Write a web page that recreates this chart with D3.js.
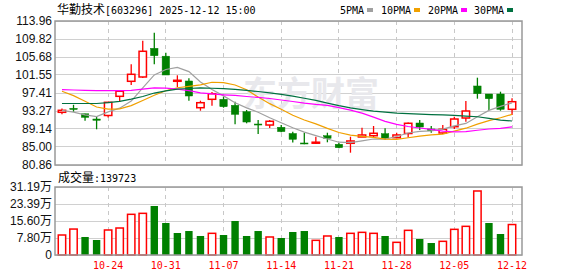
<!DOCTYPE html>
<html>
<head>
<meta charset="utf-8">
<script src="https://cdn.jsdelivr.net/npm/d3@7"></script>
<style>
  body { margin: 0; background: #fff; }
  svg { display: block; }
</style>
</head>
<body>
<svg id="chart" width="578" height="276"></svg>
<script>
var dates = ["10-20","10-21","10-22","10-23","10-24","10-27","10-28","10-29","10-30","10-31",
             "11-03","11-04","11-05","11-06","11-07","11-10","11-11","11-12","11-13","11-14",
             "11-17","11-18","11-19","11-20","11-21","11-24","11-25","11-26","11-27","11-28",
             "12-01","12-02","12-03","12-04","12-05","12-08","12-09","12-10","12-11","12-12"];
var openP  = [92.97,93.89,92.63,91.43,92.24,96.65,100.10,101.09,107.68,105.87,
              100.17,100.17,94.03,95.96,95.96,94.58,93.11,90.28,90.05,89.53,
              88.10,85.92,86.01,87.59,85.62,85.85,87.30,87.59,88.05,87.14,
              88.10,90.51,89.14,88.22,89.66,91.66,99.02,97.18,97.18,93.66];
var closeP = [93.43,93.62,91.82,91.14,95.27,97.82,101.71,107.00,105.98,101.55,
              100.33,96.72,95.18,97.25,94.26,92.51,90.74,90.15,90.91,88.54,
              86.77,85.78,86.10,87.00,84.84,86.38,87.76,88.15,87.00,87.76,
              90.45,89.59,88.74,89.07,91.43,93.27,97.25,96.10,93.66,95.41];
var highP  = [93.85,94.70,92.63,92.06,95.27,97.82,104.01,109.43,111.27,106.67,
              101.48,100.79,95.64,97.64,96.56,95.41,93.50,91.20,91.20,90.06,
              88.51,88.28,87.36,88.28,85.92,87.36,89.43,89.82,89.30,88.28,
              90.63,91.20,89.82,90.06,91.96,95.57,100.93,97.18,97.71,96.19];
var lowP   = [92.51,93.09,91.04,89.07,91.78,95.41,99.25,100.86,104.01,101.55,
              98.79,95.64,93.34,94.49,94.03,90.22,90.44,87.99,89.36,88.40,
              86.03,85.62,85.69,86.08,84.70,83.69,87.30,87.14,86.61,87.00,
              87.18,88.91,88.28,87.99,89.14,90.81,96.10,93.50,93.34,92.35];
var volume = [91700,119000,82600,68800,114700,123800,186600,191100,224800,146800,
              100900,110000,87200,99400,91700,156000,87200,110000,82600,78000,
              105500,110000,67300,87200,82600,99400,103900,99400,87200,58100,
              113100,73400,55000,62700,117700,131500,293600,146800,96300,139723];
var ma5  = [93.4,93.0,92.4,92.0,93.06,93.93,95.55,98.59,101.56,102.81,
            103.31,102.32,99.95,98.21,96.75,95.18,93.99,92.98,91.71,90.57,
            89.42,88.43,87.62,86.84,86.10,86.02,86.42,86.83,86.83,87.41,
            88.22,88.59,88.71,89.12,89.86,90.42,91.95,93.42,94.34,95.14];
var ma10 = [97.8,96.8,95.5,94.2,93.7,93.75,94.5,95.7,96.9,97.93,
            98.62,98.93,99.27,99.88,99.78,99.25,98.15,96.47,94.96,93.66,
            92.30,91.21,90.30,89.28,88.33,87.72,87.42,87.22,86.83,86.75,
            87.12,87.50,87.77,87.97,88.63,89.32,90.27,91.07,91.73,92.50];
var ma20 = [98.2,98.1,98.0,97.95,97.95,97.95,98.0,98.3,98.6,98.55,
            98.3,97.95,97.45,97.2,97.0,96.85,96.6,96.4,96.15,95.80,
            95.46,95.07,94.79,94.58,94.06,93.49,92.79,91.85,90.90,90.21,
            89.71,89.36,89.03,88.63,88.48,88.52,88.85,89.14,89.28,89.63];
var ma30 = [95.0,95.0,95.0,95.0,95.2,95.5,96.0,96.6,97.4,97.9,
            98.3,98.45,98.6,98.5,98.4,98.25,98.0,97.75,97.45,97.1,
            96.7,96.2,95.7,95.1,94.5,94.0,93.6,93.25,93.0,92.78,
            92.68,92.55,92.45,92.38,92.25,92.10,91.95,91.59,91.17,90.97];

var priceTicks = [80.86,85.00,89.14,93.27,97.41,101.55,105.68,109.82,113.96];
var volTicks = [0,77975,155950,233925,311900];
var volTickLabels = ["0","7.80万","15.60万","23.39万","31.19万"];
var dateTicks = ["10-24","10-31","11-07","11-14","11-21","11-28","12-05","12-12"];
var maNames = ["5PMA","10PMA","20PMA","30PMA"];
var maColors = ["#a0a0a0","#f0a000","#ff00ff","#007040"];
var lastVolume = "139723";

var svg = d3.select("#chart");
var left = 55, right = 522;
var pTop = 21, pBot = 165, vTop = 187, vBot = 255;
var up = "#ff0000", down = "#008000";
var mono = "'DejaVu Sans Mono', monospace";
var cjk = "'Noto Sans CJK SC', sans-serif";

var x = d3.scaleBand().domain(dates).range([56.2, 517.8]);
var bw = x.bandwidth(), boxW = 7.4;
var cx = function(d) { return x(d) + bw / 2; };
var y = d3.scaleLinear().domain([80.86, 113.96]).range([pBot, pTop]);
var yv = d3.scaleLinear().domain([0, 311900]).range([vBot, vTop]);

// title + legend
var title = svg.append("text").attr("x", 57).attr("y", 14).attr("fill", "#000");
title.append("tspan").attr("font-family", cjk).attr("font-size", 12).text("华勤技术");
title.append("tspan").attr("font-family", mono).attr("font-size", 10).text("[603296] 2025-12-12 15:00");

var legX = [340, 381, 428, 474];
var leg = svg.append("g").selectAll("g").data(maNames).enter().append("g")
    .attr("transform", function(d, i) { return "translate(" + legX[i] + ",0)"; });
leg.append("text").attr("y", 14).attr("font-family", mono).attr("font-size", 10)
    .attr("fill", "#000").text(function(d) { return d; });
leg.append("rect").attr("x", function(d) { return d.length * 6 + 3; }).attr("y", 8)
    .attr("width", 6).attr("height", 4).attr("fill", function(d, i) { return maColors[i]; });

// grids
var grid = svg.append("g").attr("shape-rendering", "crispEdges");
grid.selectAll("line.hp").data(priceTicks).enter().append("line")
    .attr("x1", left).attr("x2", right)
    .attr("y1", function(d) { return y(d); }).attr("y2", function(d) { return y(d); })
    .attr("stroke", "#d0d0d0");
grid.selectAll("line.hv").data(volTicks).enter().append("line")
    .attr("x1", left).attr("x2", right)
    .attr("y1", function(d) { return yv(d); }).attr("y2", function(d) { return yv(d); })
    .attr("stroke", "#d0d0d0");
[[pTop, pBot], [vTop, vBot]].forEach(function(r) {
  grid.selectAll(null).data(dateTicks).enter().append("line")
      .attr("x1", cx).attr("x2", cx).attr("y1", r[0]).attr("y2", r[1])
      .attr("stroke", "#c8c8c8").attr("stroke-dasharray", "4,4");
});

// watermark
svg.append("text").attr("x", 243).attr("y", 106)
    .attr("font-family", cjk).attr("font-size", 34).attr("font-weight", "bold")
    .attr("fill", "#e8e8ec").text("东方财富");

// candles
var candles = svg.append("g").selectAll("g").data(dates).enter().append("g");
candles.append("line")
    .attr("x1", cx).attr("x2", cx)
    .attr("y1", function(d, i) { return y(highP[i]); })
    .attr("y2", function(d, i) { return y(lowP[i]); })
    .attr("stroke", function(d, i) { return closeP[i] >= openP[i] ? up : down; })
    .attr("stroke-width", 1.3);
candles.append("rect")
    .attr("x", function(d) { return cx(d) - boxW / 2; })
    .attr("y", function(d, i) { return y(Math.max(openP[i], closeP[i])); })
    .attr("width", boxW)
    .attr("height", function(d, i) { return Math.max(1, Math.abs(y(openP[i]) - y(closeP[i]))); })
    .attr("fill", function(d, i) { return closeP[i] >= openP[i] ? "#fff" : down; })
    .attr("stroke", function(d, i) { return closeP[i] >= openP[i] ? up : down; })
    .attr("stroke-width", function(d, i) { return closeP[i] >= openP[i] ? 1.5 : 0.5; });

// moving averages
[ma5, ma10, ma20, ma30].forEach(function(arr, k) {
  var line = d3.line().x(function(d, i) { return cx(dates[i]); }).y(function(d) { return y(d); });
  svg.append("path").datum(arr).attr("d", line)
      .attr("fill", "none").attr("stroke", maColors[k]).attr("stroke-width", 1.2);
});

// volume bars
svg.append("g").selectAll("rect").data(dates).enter().append("rect")
    .attr("x", function(d) { return cx(d) - boxW / 2; })
    .attr("y", function(d, i) { return yv(volume[i]); })
    .attr("width", boxW)
    .attr("height", function(d, i) { return vBot - yv(volume[i]); })
    .attr("fill", function(d, i) { return (i === 0 || closeP[i] >= closeP[i - 1]) ? "#fff" : down; })
    .attr("stroke", function(d, i) { return (i === 0 || closeP[i] >= closeP[i - 1]) ? up : "none"; })
    .attr("stroke-width", 1.5);

// frames
[[pTop, pBot], [vTop, vBot]].forEach(function(r) {
  svg.append("rect").attr("x", left).attr("y", r[0]).attr("width", right - left)
      .attr("height", r[1] - r[0]).attr("fill", "none")
      .attr("stroke", "#999").attr("stroke-width", 1.5);
});

// axes
var ya = svg.append("g").attr("transform", "translate(" + left + ",0)")
    .call(d3.axisLeft(y).tickValues(priceTicks).tickSize(0).tickPadding(3)
      .tickFormat(d3.format(".2f")));
ya.select(".domain").remove();
ya.selectAll("text").attr("font-family", "'Liberation Sans', Arial, sans-serif")
    .attr("font-size", 12).attr("fill", "#111");

var yva = svg.append("g").attr("transform", "translate(" + left + ",0)")
    .call(d3.axisLeft(yv).tickValues(volTicks).tickSize(0).tickPadding(3)
      .tickFormat(function(d, i) { return volTickLabels[i]; }));
yva.select(".domain").remove();
yva.selectAll("text").attr("font-family", "'Liberation Sans', Arial, 'Noto Sans CJK SC', sans-serif")
    .attr("font-size", 12).attr("fill", "#111");

var xa = svg.append("g").attr("transform", "translate(0," + vBot + ")")
    .call(d3.axisBottom(x).tickValues(dateTicks).tickSize(0).tickPadding(7));
xa.select(".domain").remove();
xa.selectAll("text").attr("font-family", mono).attr("font-size", 10).attr("fill", "#ff0000");

// volume label
var vl = svg.append("text").attr("x", 58).attr("y", 181.5).attr("fill", "#000");
vl.append("tspan").attr("font-family", cjk).attr("font-size", 12).text("成交量");
vl.append("tspan").attr("font-family", mono).attr("font-size", 10).text(":" + lastVolume);
</script>
</body>
</html>
